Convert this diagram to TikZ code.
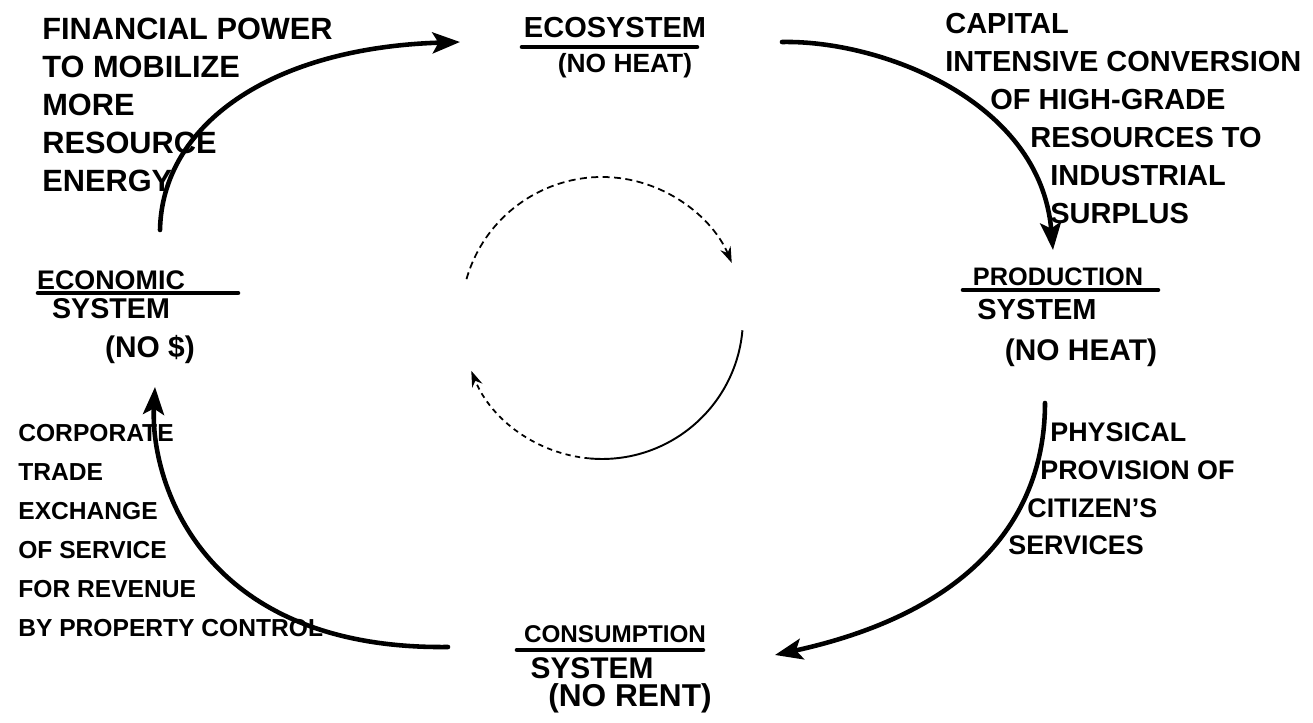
\documentclass[tikz,border=0pt]{standalone}
\usepackage{fontspec}
\setmainfont{Liberation Sans}
\usetikzlibrary{arrows.meta}

\newcommand{\handfont}[2]{\bfseries\fontsize{#1}{#2}\selectfont}

\tikzset{
    flow/.style={line width=2.6pt, line cap=round,
        -{Stealth[length=0.55cm, width=0.42cm, inset=0.12cm]}},
    loopline/.style={line width=1pt,
        -{Stealth[length=0.32cm, width=0.22cm]}},
    note/.style={anchor=north west, align=left, inner sep=0pt},
    sysname/.style={inner sep=0pt},
    uline/.style={line width=2.6pt, line cap=round},
}

\begin{document}
\begin{tikzpicture}[x=0.02cm,y=-0.02cm]

    \useasboundingbox (0,0) rectangle (1313,723);

    \node[sysname, font=\handfont{16.5}{18}]
        (eco) at (615,28) {ECOSYSTEM};
    \node[sysname, font=\handfont{15}{18}]
        (ecosub) at (625,66) {(NO HEAT)};
    \draw[uline] (522,47) -- (697,47);

    \node[sysname, font=\handfont{14.4}{18}]
        (prod) at (1058,277) {PRODUCTION};
    \node[sysname, font=\handfont{16.5}{18}]
        (prodsys) at (1037,310) {SYSTEM};
    \node[sysname, font=\handfont{17}{18}]
        (prodsub) at (1081,353) {(NO HEAT)};
    \draw[uline] (963,290) -- (1158,290);

    \node[sysname, font=\handfont{13.8}{18}]
        (cons) at (615,634) {CONSUMPTION};
    \node[sysname, font=\handfont{17}{18}]
        (conssys) at (592,668) {SYSTEM};
    \node[sysname, font=\handfont{18}{18}]
        (conssub) at (630,698) {(NO RENT)};
    \draw[uline] (517,650) -- (703,650);

    \node[sysname, font=\handfont{15.3}{18}]
        (econ) at (111,280) {ECONOMIC};
    \node[sysname, font=\handfont{16.3}{18}]
        (econsys) at (111,309) {SYSTEM};
    \node[sysname, font=\handfont{17}{18}]
        (econsub) at (150,350) {(NO \$)};
    \draw[uline] (38,293) -- (238,293);

    \node[note, font=\handfont{17.5}{21.6}]
        (finance) at (42,18)
        {FINANCIAL POWER\\TO MOBILIZE\\MORE\\RESOURCE\\ENERGY};

    \node[note, font=\handfont{16.5}{21.6}]
        (convert) at (945,13)
        {CAPITAL\\INTENSIVE CONVERSION\\\hspace*{0.9cm}OF HIGH-GRADE\\
         \hspace*{1.7cm}RESOURCES TO\\\hspace*{2.1cm}INDUSTRIAL\\
         \hspace*{2.1cm}SURPLUS};

    \node[note, font=\handfont{15.3}{21.6}]
        (provide) at (1008,422)
        {\hspace*{0.84cm}PHYSICAL\\\hspace*{0.64cm}PROVISION OF\\
         \hspace*{0.38cm}CITIZEN'S\\SERVICES};

    \node[note, font=\handfont{14}{22.2}]
        (trade) at (18,424)
        {CORPORATE\\TRADE\\EXCHANGE\\OF SERVICE\\FOR REVENUE\\
         BY PROPERTY CONTROL};

    \coordinate (econ-out) at (160,230);
    \coordinate (eco-in) at (460,42);
    \coordinate (eco-out) at (782,42);
    \coordinate (prod-in) at (1053,250);
    \coordinate (prod-out) at (1045,403);
    \coordinate (cons-in) at (775,655);
    \coordinate (cons-out) at (448,647);
    \coordinate (econ-in) at (155,387);

    \draw[flow] (econ-out) .. controls (162,125) and (270,48) .. (eco-in);
    \draw[flow] (eco-out) .. controls (880,40) and (1040,100) .. (prod-in);
    \draw[flow] (prod-out) .. controls (1045,510) and (980,610) .. (cons-in);
    \draw[flow] (cons-out) .. controls (200,650) and (150,480) .. (econ-in);

    \coordinate (hub) at (602,318);

    \draw[loopline, dash pattern=on 4pt off 2.5pt]
        ([shift={(164:2.82cm)}]hub) arc[start angle=164, end angle=23, radius=2.82cm];
    \draw[line width=1.1pt]
        ([shift={(-5:2.82cm)}]hub) arc[start angle=-5, end angle=-95, radius=2.82cm];
    \draw[loopline, dash pattern=on 3pt off 2.5pt]
        ([shift={(-95:2.82cm)}]hub) arc[start angle=-95, end angle=-158, radius=2.82cm];

\end{tikzpicture}
\end{document}
